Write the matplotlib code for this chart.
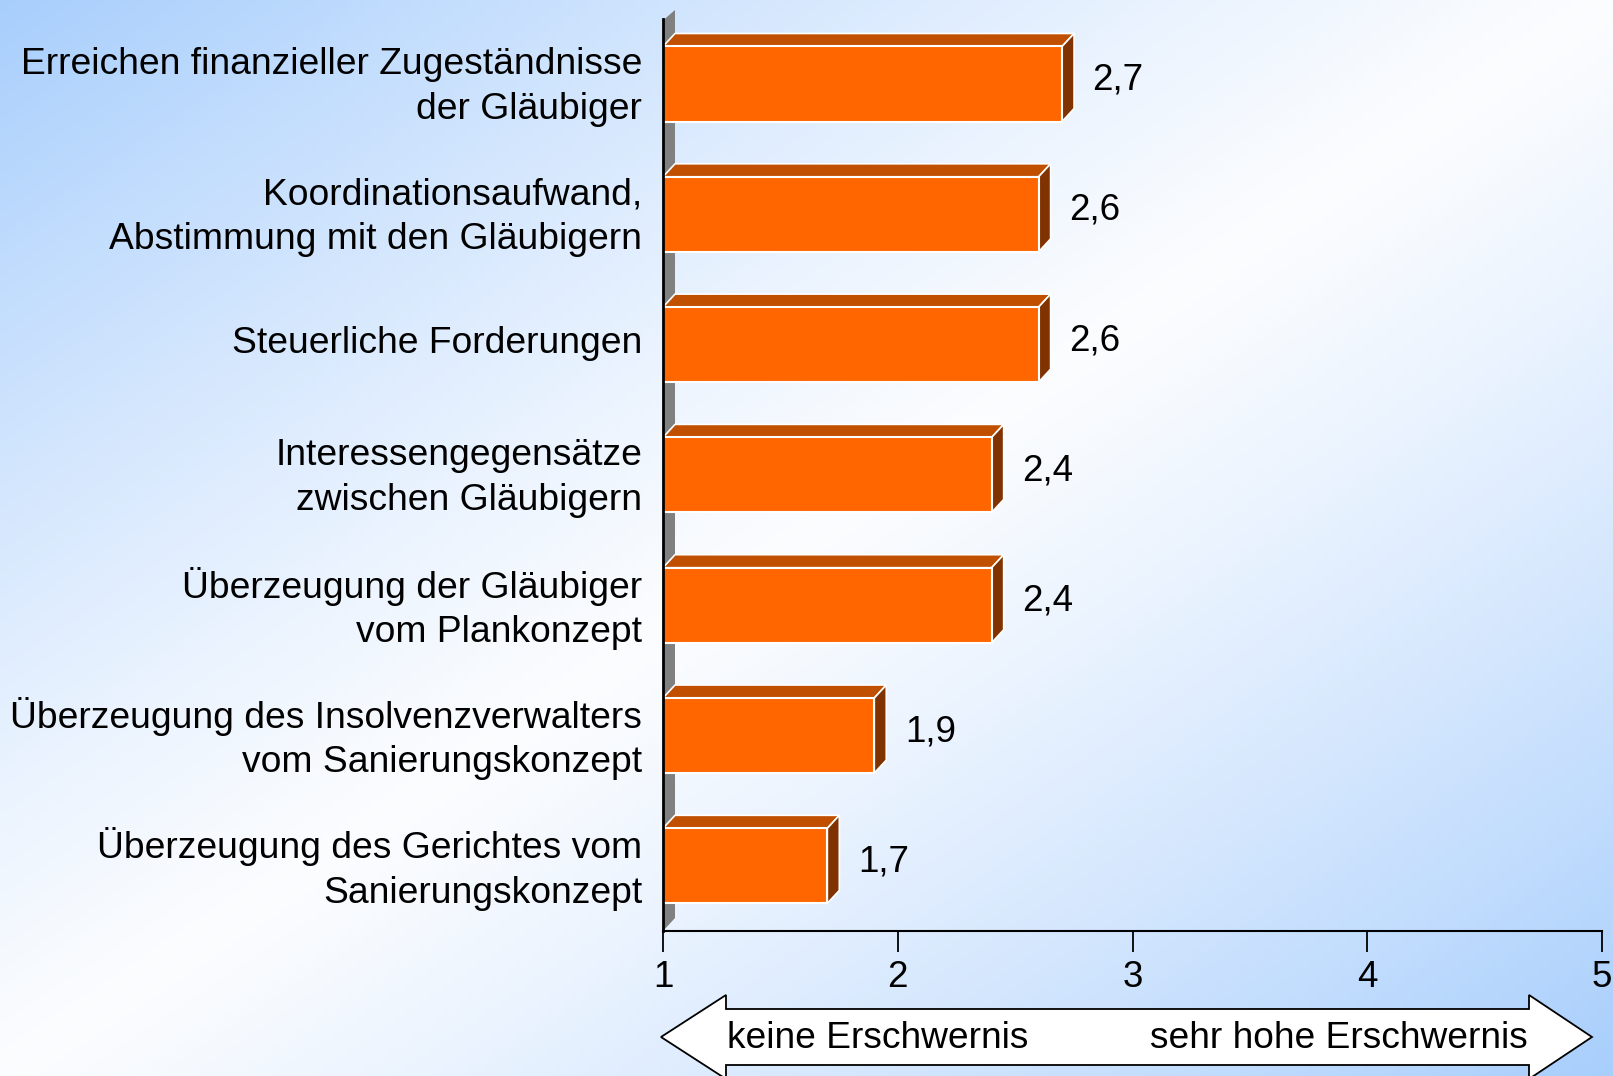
import numpy as np
import matplotlib
matplotlib.use("Agg")
import matplotlib.pyplot as plt
import matplotlib.transforms as mtransforms
from matplotlib.patches import Polygon

plt.rcParams['font.family'] = ['Liberation Sans', 'DejaVu Sans']

# data
labels = [
    "Erreichen finanzieller Zugeständnisse\nder Gläubiger",
    "Koordinationsaufwand,\nAbstimmung mit den Gläubigern",
    "Steuerliche Forderungen",
    "Interessengegensätze\nzwischen Gläubigern",
    "Überzeugung der Gläubiger\nvom Plankonzept",
    "Überzeugung des Insolvenzverwalters\nvom Sanierungskonzept",
    "Überzeugung des Gerichtes vom\nSanierungskonzept",
]
values = [2.7, 2.6, 2.6, 2.4, 2.4, 1.9, 1.7]
value_text = ["2,7", "2,6", "2,6", "2,4", "2,4", "1,9", "1,7"]
xticks = [1, 2, 3, 4, 5]
scale_left = "keine Erschwernis"
scale_right = "sehr hohe Erschwernis"

W, H = 1613, 1076
fig = plt.figure(figsize=(W / 100, H / 100), dpi=100)

# background gradient
bg = fig.add_axes([0, 0, 1, 1])
bg.set_xlim(0, W)
bg.set_ylim(H, 0)
bg.axis('off')
xx, yy = np.meshgrid(np.linspace(0, 1, 200), np.linspace(0, 1, 200))
t = np.abs((xx + yy) - 1.0) ** 1.2
white = np.array([0.985, 0.99, 1.0])
blue = np.array([0.66, 0.81, 0.99])
img = white[None, None, :] + (blue - white)[None, None, :] * t[:, :, None]
bg.imshow(img, extent=[0, W, H, 0], aspect='auto', zorder=0)

# arrow under the axis
ay = 1037
arrow = [(661, ay), (726, ay - 42), (726, ay - 28), (1529, ay - 28), (1529, ay - 42),
         (1592, ay), (1529, ay + 42), (1529, ay + 28), (726, ay + 28), (726, ay + 42)]
bg.add_patch(Polygon(arrow, closed=True, facecolor='white', edgecolor='black', lw=1.3, zorder=2))
bg.text(727, ay + 2, scale_left, fontsize=26.7, ha='left', va='center', zorder=3)
bg.text(1528, ay + 2, scale_right, fontsize=26.7, ha='right', va='center', zorder=3)

# main chart
x0, x1 = 663, 1602
top, bottom = 10, 931
ax = fig.add_axes([x0 / W, 1 - bottom / H, (x1 - x0) / W, (bottom - top) / H])
ax.patch.set_alpha(0)
ax.set_xlim(1, 5)
ylo, yhi = 6.50, -0.568
ax.set_ylim(ylo, yhi)

y = np.arange(len(values))
h = 0.576
dx = 12 / 234.75
dy = 13 / 130.3

# side wall
ax.add_patch(Polygon([(1, ylo), (1 + dx, ylo - dy), (1 + dx, yhi + 0.0), (1, yhi + 0.08)],
                     closed=True, facecolor='#808080', edgecolor='none', zorder=1, clip_on=False))

ax.barh(y, np.array(values) - 1, left=1, height=h, color='#FF6600',
        edgecolor='white', lw=1.5, zorder=3)
for yi, v in zip(y, values):
    yt = yi - h / 2
    yb = yi + h / 2
    ax.add_patch(Polygon([(1, yt), (v, yt), (v + dx, yt - dy), (1 + dx, yt - dy)],
                         closed=True, facecolor='#C05000', edgecolor='white', lw=1.2, zorder=2))
    ax.add_patch(Polygon([(v, yt), (v + dx, yt - dy), (v + dx, yb - dy), (v, yb)],
                         closed=True, facecolor='#803300', edgecolor='white', lw=1.2, zorder=2))

for yi, v, s in zip(y, values, value_text):
    ax.text(v + 0.13, yi - 0.03, s, fontsize=26.5, ha='left', va='center')

ax.set_yticks(y)
ax.set_yticklabels(labels, fontsize=26.8, linespacing=1.35)
ax.tick_params(axis='y', length=0, pad=15)
# nudge category labels up a little
shift = mtransforms.ScaledTranslation(0, 4 / 72, fig.dpi_scale_trans)
for lab in ax.get_yticklabels():
    lab.set_transform(lab.get_transform() + shift)

ax.set_xticks(xticks)
ax.set_xticklabels([str(v) for v in xticks], fontsize=26.5)
ax.tick_params(axis='x', length=15, width=1.3, direction='out', pad=6)

for side in ['top', 'right']:
    ax.spines[side].set_visible(False)
ax.spines['bottom'].set_linewidth(1.5)
ax.spines['left'].set_linewidth(2)
ax.spines['left'].set_bounds(ylo, -0.5)
ax.spines['left'].set_zorder(4)

fig.savefig("out.png", dpi=100)
